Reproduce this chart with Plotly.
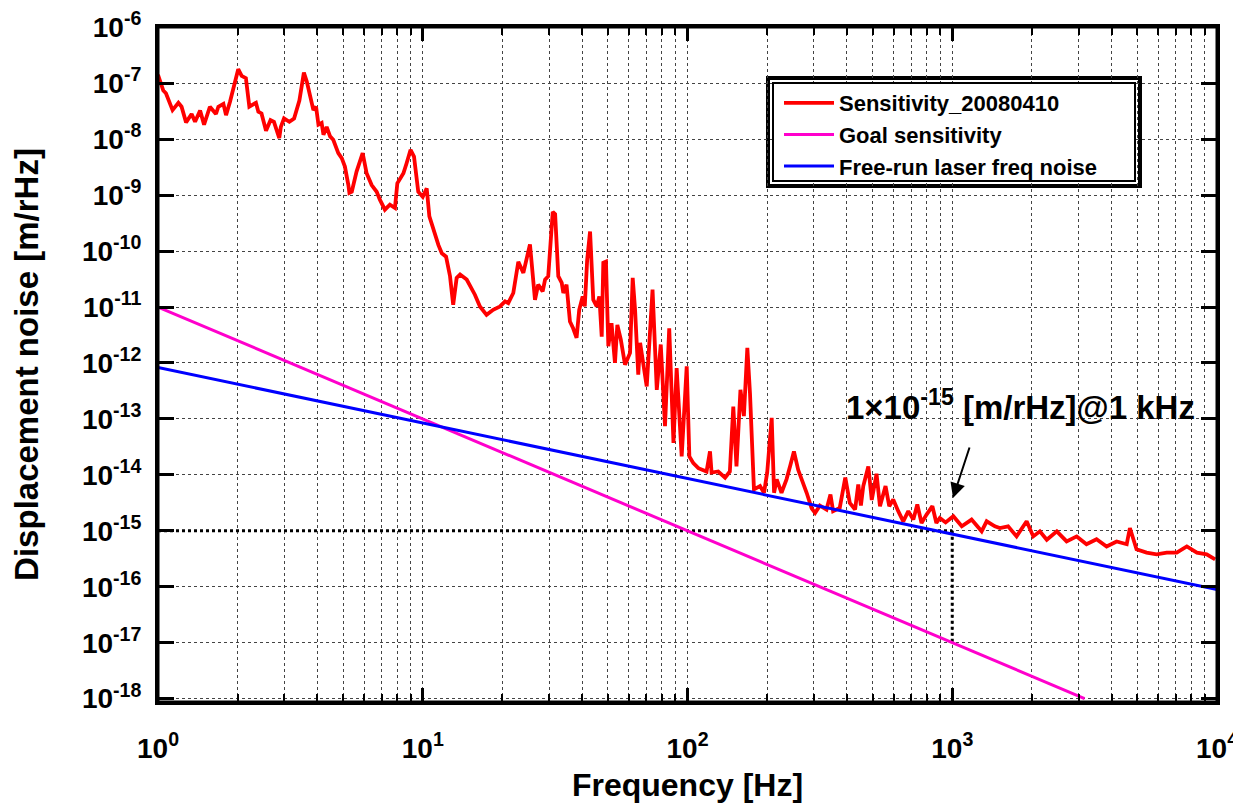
import numpy as np
import plotly.graph_objects as go

sens_logf = [0.000, 0.020, 0.030, 0.055, 0.077, 0.089, 0.106, 0.127, 0.140, 0.159, 0.174, 0.196, 0.219, 0.228,
             0.247, 0.257, 0.272, 0.284, 0.303, 0.316, 0.332, 0.345, 0.370, 0.379, 0.391, 0.408, 0.425, 0.438,
             0.458, 0.464, 0.476, 0.496, 0.514, 0.534, 0.551, 0.562, 0.574, 0.587, 0.597, 0.606, 0.618, 0.625,
             0.637, 0.650, 0.662, 0.681, 0.694, 0.706, 0.719, 0.723, 0.732, 0.750, 0.773, 0.788, 0.807, 0.826,
             0.838, 0.857, 0.876, 0.895, 0.904, 0.927, 0.939, 0.954, 0.967, 0.983, 1.000, 1.015, 1.025, 1.040,
             1.059, 1.072, 1.088, 1.103, 1.115, 1.128, 1.141, 1.166, 1.197, 1.216, 1.241, 1.266, 1.292, 1.311,
             1.323, 1.342, 1.361, 1.380, 1.405, 1.424, 1.436, 1.453, 1.462, 1.474, 1.491, 1.500, 1.512, 1.525,
             1.531, 1.543, 1.556, 1.568, 1.581, 1.591, 1.604, 1.612, 1.621, 1.632, 1.644, 1.657, 1.667, 1.676,
             1.682, 1.692, 1.701, 1.713, 1.726, 1.735, 1.748, 1.764, 1.783, 1.793, 1.802, 1.814, 1.821, 1.846,
             1.868, 1.884, 1.899, 1.915, 1.931, 1.947, 1.959, 1.978, 1.997, 2.007, 2.022, 2.041, 2.060, 2.072,
             2.085, 2.091, 2.116, 2.142, 2.160, 2.173, 2.185, 2.200, 2.213, 2.226, 2.236, 2.251, 2.274, 2.289,
             2.301, 2.318, 2.327, 2.337, 2.355, 2.374, 2.389, 2.402, 2.418, 2.437, 2.450, 2.469, 2.482, 2.500,
             2.525, 2.540, 2.550, 2.575, 2.596, 2.613, 2.633, 2.645, 2.655, 2.664, 2.683, 2.696, 2.714, 2.727,
             2.748, 2.762, 2.777, 2.796, 2.815, 2.834, 2.853, 2.868, 2.884, 2.903, 2.925, 2.940, 2.953, 2.975,
             3.004, 3.036, 3.073, 3.111, 3.130, 3.161, 3.180, 3.211, 3.243, 3.281, 3.306, 3.331, 3.357, 3.395,
             3.432, 3.470, 3.507, 3.545, 3.583, 3.621, 3.659, 3.671, 3.696, 3.734, 3.772, 3.810, 3.848, 3.886,
             3.924, 3.961, 3.993]
sens_logy = [-6.85, -7.13, -7.18, -7.48, -7.35, -7.42, -7.70, -7.55, -7.69, -7.49, -7.74, -7.42, -7.55, -7.42,
             -7.37, -7.57, -7.33, -7.12, -6.75, -6.87, -6.91, -7.42, -7.35, -7.51, -7.54, -7.85, -7.66, -7.69,
             -7.98, -7.78, -7.63, -7.69, -7.63, -7.31, -6.81, -6.97, -7.24, -7.48, -7.42, -7.74, -7.71, -7.92,
             -7.78, -7.95, -8.01, -8.25, -8.34, -8.49, -8.82, -8.96, -8.94, -8.58, -8.25, -8.61, -8.82, -8.94,
             -9.08, -9.26, -9.17, -9.23, -8.79, -8.61, -8.43, -8.19, -8.31, -8.94, -9.03, -8.88, -9.38, -9.62,
             -9.89, -10.04, -10.10, -10.45, -10.96, -10.48, -10.42, -10.51, -10.78, -10.99, -11.14, -11.05, -10.99, -10.90,
             -10.93, -10.75, -10.19, -10.39, -9.88, -10.87, -10.60, -10.72, -10.51, -10.45, -9.30, -9.34, -10.45, -10.57,
             -10.75, -10.60, -11.26, -11.38, -11.55, -11.05, -10.81, -10.99, -10.16, -9.65, -10.87, -10.99, -10.81, -11.53,
             -10.21, -10.19, -11.70, -11.29, -12.00, -11.32, -11.58, -12.03, -11.82, -10.48, -11.05, -12.21, -11.64, -12.42,
             -10.69, -12.48, -11.67, -13.13, -11.38, -13.43, -12.09, -13.67, -12.06, -13.67, -13.79, -13.88, -13.91, -13.94,
             -13.58, -13.96, -13.94, -14.05, -13.94, -12.78, -13.85, -12.48, -12.95, -11.73, -12.54, -14.26, -14.20, -14.32,
             -13.96, -12.98, -14.32, -14.08, -14.32, -14.08, -13.82, -13.58, -13.91, -14.14, -14.32, -14.60, -14.68, -14.55,
             -14.62, -14.35, -14.65, -14.59, -14.05, -14.50, -14.62, -14.17, -14.55, -14.20, -13.85, -14.45, -13.98, -14.56,
             -14.20, -14.56, -14.44, -14.65, -14.83, -14.65, -14.80, -14.53, -14.86, -14.71, -14.56, -14.86, -14.77, -14.85,
             -14.74, -14.92, -14.80, -15.01, -14.83, -14.92, -14.95, -14.92, -15.10, -14.83, -15.10, -15.01, -15.16, -15.01,
             -15.19, -15.10, -15.24, -15.15, -15.28, -15.19, -15.24, -14.95, -15.33, -15.39, -15.42, -15.39, -15.39, -15.28,
             -15.39, -15.42, -15.51]

# Straight-line (power law) references: end points
goal_freq = [1.0, 3162.0]
goal_noise = [1e-11, 1e-18]
laser_freq = [1.0, 10000.0]
laser_noise = [8.3e-13, 8.9e-17]

# 1e-15 @ 1 kHz marker lines
mark_h_freq = [1.0, 1000.0]
mark_h_noise = [1e-15, 1e-15]
mark_v_freq = [1000.0, 1000.0]
mark_v_noise = [1e-15, 1e-17]

x_tickvals = [1, 10, 100, 1000, 10000]
x_ticktext = ["10<sup>0</sup>", "10<sup>1</sup>", "10<sup>2</sup>", "10<sup>3</sup>", "10<sup>4</sup>"]
y_exps = list(range(-18, -5))
y_tickvals = [10.0 ** e for e in y_exps]
y_ticktext = ["10<sup>%d</sup>" % e for e in y_exps]
x_minor = [m * 10 ** d for d in range(0, 4) for m in range(2, 10)]

sens_f = 10 ** np.array(sens_logf)
sens_y = 10 ** np.array(sens_logy)

FONT = "Liberation Sans"
OFF = 8  # page body margin in the browser
W, H = 1241 - OFF, 805 - OFF
L, R, T, B = 158, 1217, 27, 702  # plot area in screen pixels
PW, PH = R - L, B - T


def px(xp):
    return (xp - L) / PW


def py(yp):
    return (B - yp) / PH


fig = go.Figure()
fig.add_trace(go.Scatter(x=mark_h_freq, y=mark_h_noise, mode="lines", showlegend=False,
                         line=dict(color="black", width=3, dash="dot")))
fig.add_trace(go.Scatter(x=mark_v_freq, y=mark_v_noise, mode="lines", showlegend=False,
                         line=dict(color="black", width=3, dash="dot")))
fig.add_trace(go.Scatter(x=sens_f, y=sens_y, mode="lines", name="Sensitivity_20080410",
                         line=dict(color="#ff0000", width=3.8)))
fig.add_trace(go.Scatter(x=goal_freq, y=goal_noise, mode="lines", name="Goal sensitivity",
                         line=dict(color="#ff00cc", width=3)))
fig.add_trace(go.Scatter(x=laser_freq, y=laser_noise, mode="lines", name="Free-run laser freq noise",
                         line=dict(color="#0000ff", width=3)))

fig.update_layout(
    width=W, height=H,
    margin=dict(l=L - OFF, r=W - (R - OFF), t=T - OFF, b=H - (B - OFF), autoexpand=False),
    paper_bgcolor="white", plot_bgcolor="white",
    font=dict(family=FONT, color="black", weight="bold"),
    legend=dict(x=px(779), y=py(82), xanchor="left", yanchor="top",
                bgcolor="rgba(0,0,0,0)", borderwidth=0,
                font=dict(size=22, family=FONT, weight="bold"),
                tracegroupgap=0, itemwidth=50),
)
fig.update_xaxes(
    type="log", range=[0, 4], automargin=False, ticklabeloverflow="allow",
    tickmode="array", tickvals=x_tickvals, ticktext=x_ticktext,
    tickfont=dict(size=28, family=FONT, weight="bold"),
    ticks="inside", ticklen=14, tickwidth=3, tickcolor="black",
    ticklabelstandoff=19,
    showline=True, linewidth=3, linecolor="black", mirror="allticks",
    showgrid=True, gridcolor="#444444", gridwidth=1, griddash="dot",
    minor=dict(tickmode="array", tickvals=x_minor, ticks="inside", ticklen=8, tickwidth=2,
               tickcolor="black", showgrid=True, gridcolor="#444444", gridwidth=1, griddash="dot"),
    title=dict(text="Frequency [Hz]", font=dict(size=32, family=FONT, weight="bold"), standoff=12),
    zeroline=False,
)
fig.update_yaxes(
    type="log", range=[-18.06, -5.995], automargin=False, ticklabeloverflow="allow",
    tickmode="array", tickvals=y_tickvals, ticktext=y_ticktext,
    tickfont=dict(size=28, family=FONT, weight="bold"),
    ticks="inside", ticklen=16, tickwidth=3, tickcolor="black",
    ticklabelstandoff=8,
    showline=True, linewidth=3, linecolor="black", mirror="allticks",
    showgrid=True, gridcolor="#444444", gridwidth=1, griddash="dot",
    title=dict(text="Displacement noise [m/rHz]", font=dict(size=33, family=FONT, weight="bold"), standoff=34),
    zeroline=False,
)

# plot frame
fig.add_shape(type="rect", xref="paper", yref="paper", x0=0, x1=1, y0=0, y1=1,
              line=dict(color="black", width=3), fillcolor="rgba(0,0,0,0)", layer="above")

# double-bordered legend frame
fig.add_shape(type="rect", xref="paper", yref="paper",
              x0=px(768), x1=px(1140), y0=py(186), y1=py(78),
              line=dict(color="black", width=4), fillcolor="white", layer="below")
fig.add_shape(type="rect", xref="paper", yref="paper",
              x0=px(773), x1=px(1135), y0=py(181), y1=py(83),
              line=dict(color="black", width=2), fillcolor="white", layer="above")

fig.add_annotation(xref="paper", yref="paper", x=px(1020), y=py(405), xanchor="center", yanchor="middle",
                   text="1\u00d710<sup>-15</sup> [m/rHz]@1 kHz", showarrow=False,
                   font=dict(size=33, family=FONT, weight="bold", color="black"))
fig.add_annotation(xref="paper", yref="paper", x=px(953), y=py(498),
                   ax=17, ay=-52, text="", showarrow=True, arrowhead=2, arrowsize=1.5,
                   arrowwidth=2, arrowcolor="black")

fig.write_html("out.html")
